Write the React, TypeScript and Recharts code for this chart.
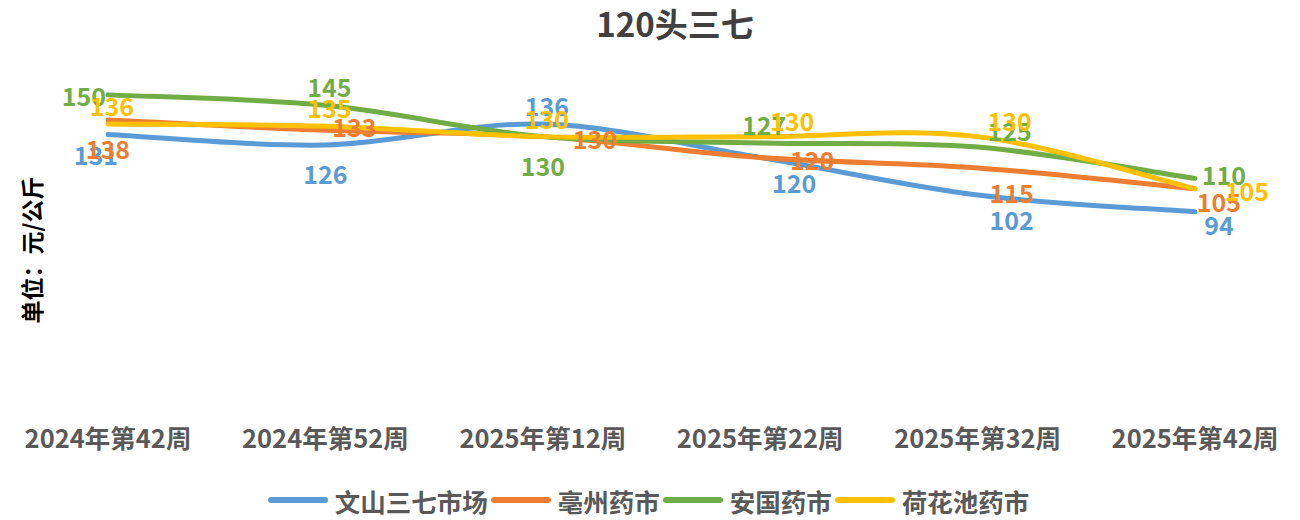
import { LineChart, Line, XAxis, YAxis, Legend, LabelList } from "recharts"

const weeks = ["2024年第42周", "2024年第52周", "2025年第12周", "2025年第22周", "2025年第32周", "2025年第42周"]
const wenshan = [131, 126, 136, 120, 102, 94]
const bozhou = [138, 133, 130, 120, 115, 105]
const anguo = [150, 145, 130, 127, 125, 110]
const hehuachi = [136, 135, 130, 130, 130, 105]

const FONT = '"Noto Sans CJK SC", "Noto Sans", sans-serif'

const data = weeks.map((week, i) => ({
  week,
  wenshan: wenshan[i],
  bozhou: bozhou[i],
  anguo: anguo[i],
  hehuachi: hehuachi[i],
}))

// where each data label sits relative to its point (the source chart places them by hand)
const labelOffsets: Record<string, [number, number]> = {
  top: [4, -19],
  bottom: [0, 28],
  left: [-24, 0],
  right: [29, -4],
  farRight: [52, 1],
  topRight: [32, -17],
  bottomRight: [34, 24],
  bottomLeft: [-12, 19],
  lowRight: [24, 12],
}

const series = [
  {
    key: "wenshan",
    name: "文山三七市场",
    color: "#5B9BD5",
    labels: ["bottomLeft", "bottom", "top", "bottomRight", "bottomRight", "lowRight"],
  },
  {
    key: "bozhou",
    name: "亳州药市",
    color: "#ED7D31",
    labels: ["bottom", "right", "farRight", "farRight", "bottomRight", "lowRight"],
  },
  {
    key: "anguo",
    name: "安国药市",
    color: "#70AD47",
    labels: ["left", "top", "bottom", "top", "topRight", "right"],
  },
  {
    key: "hehuachi",
    name: "荷花池药市",
    color: "#FFC000",
    labels: ["top", "top", "top", "topRight", "topRight", "farRight"],
  },
]

// smooth line like Excel's (Catmull-Rom style bezier)
function smoothCurve(context: any) {
  let pts: number[][] = []
  return {
    areaStart() {},
    areaEnd() {},
    lineStart() {
      pts = []
    },
    lineEnd() {
      const n = pts.length
      if (!n) return
      context.moveTo(pts[0][0], pts[0][1])
      for (let i = 0; i < n - 1; i++) {
        const p0 = pts[Math.max(i - 1, 0)]
        const p1 = pts[i]
        const p2 = pts[i + 1]
        const p3 = pts[Math.min(i + 2, n - 1)]
        context.bezierCurveTo(
          p1[0] + (p2[0] - p0[0]) / 6,
          p1[1] + (p2[1] - p0[1]) / 6,
          p2[0] - (p3[0] - p1[0]) / 6,
          p2[1] - (p3[1] - p1[1]) / 6,
          p2[0],
          p2[1]
        )
      }
    },
    point(x: number, y: number) {
      pts.push([x, y])
    },
  }
}

const makeLabel = (color: string, sides: string[]) => (props: any) => {
  const vb = props.viewBox || {}
  const x = props.x ?? vb.x
  const y = props.y ?? vb.y
  const [dx, dy] = labelOffsets[sides[props.index] || "top"]
  return (
    <text
      x={x + dx}
      y={y + dy}
      fill={color}
      fontSize={25}
      fontWeight={700}
      fontFamily={FONT}
      textAnchor="middle"
      dominantBaseline="central"
    >
      {props.value}
    </text>
  )
}

function LegendContent() {
  return (
    <div
      style={{
        height: 50,
        display: "flex",
        justifyContent: "center",
        alignItems: "center",
        paddingTop: 10,
        boxSizing: "border-box",
        fontFamily: FONT,
        fontWeight: 700,
        fontSize: 25.5,
        color: "#595959",
      }}
    >
      {series.map((s) => (
        <div key={s.key} style={{ display: "flex", alignItems: "center", marginRight: 3 }}>
          <span
            style={{
              display: "inline-block",
              width: 60,
              height: 6,
              borderRadius: 3,
              background: s.color,
              marginRight: 7,
            }}
          />
          <span>{s.name}</span>
        </div>
      ))}
    </div>
  )
}

export default function App() {
  return (
    <div style={{ position: "absolute", left: 0, top: 0, width: 1300, height: 520, background: "#fff" }}>
      <div
        style={{
          position: "absolute",
          left: 0,
          top: 0,
          width: 1350,
          lineHeight: "46px",
          textAlign: "center",
          fontFamily: FONT,
          fontWeight: 700,
          fontSize: 33,
          color: "#404040",
        }}
      >
        120头三七
      </div>
      <div
        style={{
          position: "absolute",
          left: 31,
          top: 250,
          transform: "translate(-50%, -50%) rotate(-90deg)",
          whiteSpace: "nowrap",
          fontFamily: FONT,
          fontWeight: 700,
          fontSize: 23,
          color: "#000",
        }}
      >
        单位：元/公斤
      </div>
      <LineChart width={1300} height={520} data={data} margin={{ top: 74, right: 0, bottom: 0, left: 0 }}>
        <XAxis
          dataKey="week"
          axisLine={false}
          tickLine={false}
          tickSize={0}
          tickMargin={22}
          height={62}
          interval={0}
          padding={{ left: 108, right: 105 }}
          tick={{ fill: "#595959", fontSize: 25.5, fontWeight: 700, fontFamily: FONT }}
        />
        <YAxis hide domain={[0, 160]} />
        <Legend verticalAlign="bottom" content={<LegendContent />} />
        {series.map((s) => (
          <Line
            key={s.key}
            dataKey={s.key}
            name={s.name}
            type={smoothCurve as any}
            stroke={s.color}
            strokeWidth={5}
            strokeLinecap="round"
            dot={false}
            activeDot={false}
            isAnimationActive={false}
          >
            <LabelList dataKey={s.key} content={makeLabel(s.color, s.labels)} />
          </Line>
        ))}
      </LineChart>
    </div>
  )
}
